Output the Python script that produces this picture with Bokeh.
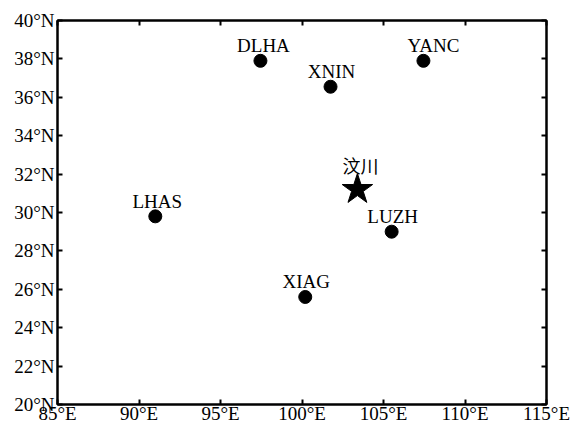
from bokeh.plotting import figure
from bokeh.models import ColumnDataSource, FixedTicker, LinearAxis, Range1d
from bokeh.core.properties import value
from bokeh.embed import file_html
from bokeh.resources import INLINE

# ---- data ----
x_ticks = [85, 90, 95, 100, 105, 110, 115]
x_tick_labels = ["85°E", "90°E", "95°E", "100°E", "105°E", "110°E", "115°E"]
y_ticks = [20, 22, 24, 26, 28, 30, 32, 34, 36, 38, 40]
y_tick_labels = ["20°N", "22°N", "24°N", "26°N", "28°N", "30°N", "32°N", "34°N", "36°N", "38°N", "40°N"]

station_names = ["DLHA", "XNIN", "YANC", "LHAS", "LUZH", "XIAG"]
station_lon = [97.45, 101.75, 107.45, 91.0, 105.5, 100.2]
station_lat = [37.9, 36.55, 37.9, 29.8, 29.0, 25.6]
label_dx = [3, 1, 10, 2, 1, 1]  # label pixel nudges (style)

epicenter_name = ["汶川"]
epicenter_lon = [103.4]
epicenter_lat = [31.2]

SERIF = "Liberation Serif"

p = figure(width=577, height=426, output_backend="svg", toolbar_location=None,
           x_range=Range1d(85, 115), y_range=Range1d(20, 40),
           min_border_left=57, min_border_right=31, min_border_top=20, min_border_bottom=22,
           x_axis_location=None, y_axis_location=None)
p.grid.visible = False
p.outline_line_color = "black"
p.outline_line_width = 2
p.background_fill_color = "white"
p.border_fill_color = "white"


def make_axis(ticks, labels, show_labels, standoff=3):
    ax = LinearAxis(ticker=FixedTicker(ticks=ticks))
    ax.major_label_overrides = {t: l for t, l in zip(ticks, labels)}
    ax.major_tick_in = 5
    ax.major_tick_out = 0
    ax.minor_tick_in = 0
    ax.minor_tick_out = 0
    ax.major_tick_line_width = 2
    ax.axis_line_width = 2
    ax.axis_line_color = "black"
    ax.major_tick_line_color = "black"
    ax.major_label_text_font = SERIF
    ax.major_label_text_font_size = "19px"
    ax.major_label_text_color = "black"
    ax.major_label_standoff = standoff
    if not show_labels:
        ax.major_label_text_alpha = 0
        ax.major_label_text_font_size = "1px"
        ax.major_label_standoff = 0
    return ax


p.add_layout(make_axis(x_ticks, x_tick_labels, True, standoff=-2), "below")
p.add_layout(make_axis(y_ticks, y_tick_labels, True, standoff=3), "left")
p.add_layout(make_axis(x_ticks, x_tick_labels, False), "above")
p.add_layout(make_axis(y_ticks, y_tick_labels, False), "right")

src = ColumnDataSource(dict(x=station_lon, y=station_lat, name=station_names, dx=label_dx))
p.scatter("x", "y", source=src, size=13, color="black")
p.text("x", "y", text="name", source=src, x_offset="dx", y_offset=-15,
       text_align="center", text_baseline="alphabetic",
       text_font=value(SERIF), text_font_size="19px", text_color="black")

esrc = ColumnDataSource(dict(x=epicenter_lon, y=epicenter_lat, name=epicenter_name))
p.scatter("x", "y", source=esrc, marker="star", size=32, color="black")
p.text("x", "y", text="name", source=esrc, x_offset=3, y_offset=-24,
       text_align="center", text_baseline="alphabetic",
       text_font=value("Noto Sans CJK SC"), text_font_size="18px", text_color="black")

open("out.html", "w").write(file_html(p, INLINE))
